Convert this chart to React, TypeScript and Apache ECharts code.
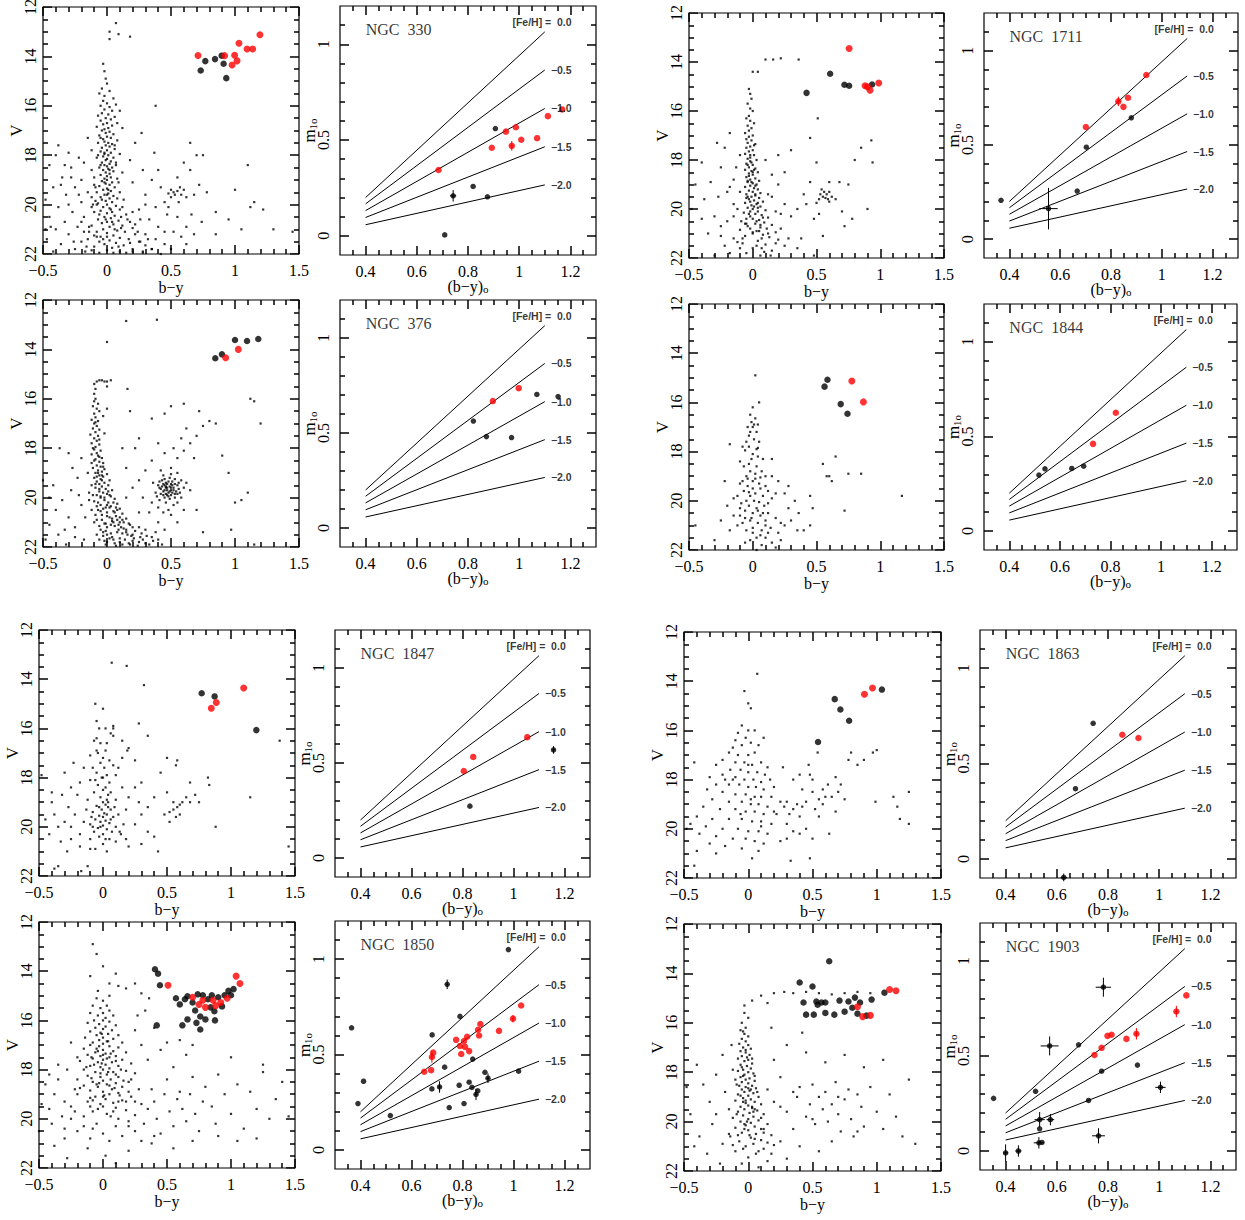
import React, { useEffect, useRef } from "react";
import * as echarts from "echarts";

// ---------- axis ticks ----------
const CMD_X_TICKS = [-0.5, 0, 0.5, 1, 1.5];
const CMD_Y_TICKS = [12, 14, 16, 18, 20, 22];
const M1_X_TICKS = [0.4, 0.6, 0.8, 1, 1.2];
const M1_Y_TICKS = [0, 0.5, 1];

// ---------- iso-metallicity calibration lines ----------
const FEH_LABELS = ["[Fe/H] =  0.0", "\u22120.5", "\u22121.0", "\u22121.5", "\u22122.0"];
const FEH_X = [0.4, 1.1];
const FEH_Y_START = [0.2, 0.167, 0.132, 0.096, 0.058];
const FEH_Y_END = [1.065, 0.866, 0.665, 0.465, 0.266];
const FEH_LABEL_Y = [1.114, 0.866, 0.665, 0.465, 0.266];

const NAMES = ["NGC 330", "NGC 376", "NGC 1711", "NGC 1844", "NGC 1847", "NGC 1850", "NGC 1863", "NGC 1903"];

// ---------- NGC 330 ----------
const F330 = [[0.02,13.0],[0.07,12.65],[0.09,13.1],[0.18,13.2],[0.02,13.3],
[-0.03,14.3],[-0.02,14.6],[-0.01,14.9],[0.0,15.1],[-0.04,15.3],[0.02,15.4],[-0.06,15.5],[-0.02,15.6],[0.05,15.7],[-0.03,15.8],[0.0,15.9],[0.07,15.95],[-0.05,16.0],[0.02,16.05],[-0.02,16.15],[0.04,16.2],[0.1,16.2],[-0.04,16.3],[0.01,16.35],[-0.07,16.4],[0.06,16.45],[-0.01,16.5],[0.03,16.55],[-0.05,16.6],[0.0,16.7],[0.08,16.7],[-0.03,16.75],[0.04,16.8],[-0.08,16.85],[0.01,16.9],[-0.02,16.95],[0.12,16.9],
[-0.04,17.0],[0.02,17.05],[-0.01,17.1],[0.05,17.15],[-0.06,17.2],[0.0,17.25],[0.03,17.3],[-0.03,17.35],[0.08,17.4],[-0.02,17.45],[0.01,17.5],[-0.07,17.5],[0.04,17.55],[-0.01,17.6],[0.02,17.65],[-0.04,17.7],[0.06,17.75],[0.0,17.8],[-0.05,17.85],[0.03,17.9],[-0.02,17.95],[0.1,17.95],[0.01,18.0],[-0.03,18.05],[0.05,18.1],[-0.08,18.1],[0.0,18.15],[-0.01,18.2],[0.03,18.25],[-0.04,18.3],[0.07,18.3],[0.02,18.35],[-0.02,18.4],[0.0,18.45],[0.04,18.5],[-0.06,18.5],[0.01,18.55],[-0.03,18.6],[0.05,18.65],[-0.01,18.7],[0.12,18.7],[0.02,18.75],[-0.05,18.8],[0.0,18.85],[0.03,18.9],[-0.02,18.95],[0.08,18.95],[-0.1,18.9],
[0.0,19.0],[-0.04,19.05],[0.04,19.1],[-0.01,19.15],[0.02,19.2],[-0.06,19.25],[0.06,19.3],[0.0,19.35],[-0.03,19.4],[0.03,19.45],[0.1,19.5],[-0.08,19.5],[0.01,19.55],[-0.02,19.6],[0.05,19.65],[-0.05,19.7],[0.02,19.75],[0.13,19.8],[-0.01,19.85],[0.04,19.9],[-0.07,19.95],[0.0,20.0],[0.07,20.05],[-0.03,20.1],[0.02,20.15],[0.1,20.2],[-0.05,20.25],[0.04,20.3],[-0.1,20.3],[0.0,20.35],[0.15,20.4],[0.06,20.45],[-0.02,20.5],[0.03,20.55],[-0.07,20.6],[0.09,20.65],[0.0,20.7],[0.18,20.7],[-0.04,20.75],[0.05,20.8],[0.12,20.85],[-0.12,20.85],[0.02,20.9],[0.2,20.95],[-0.03,21.0],[0.08,21.05],[0.14,21.1],[-0.08,21.1],[0.0,21.15],[0.22,21.2],[0.05,21.25],[-0.05,21.3],[0.1,21.35],[0.17,21.4],[-0.15,21.4],[0.02,21.45],[0.25,21.5],[0.07,21.55],[-0.02,21.6],[0.13,21.65],[0.3,21.65],[-0.1,21.7],[0.04,21.75],[0.2,21.8],[0.0,21.85],[0.1,21.9],[-0.06,21.95],[0.28,21.95],
[-0.02,19.1],[0.01,19.4],[-0.04,19.8],[0.03,20.2],[-0.01,20.6],[0.06,21.0],[-0.03,21.4],[0.09,21.7],[-0.05,18.4],[0.02,18.6],[-0.02,17.9],[0.0,19.6],[0.04,20.7],[-0.08,20.0],[0.11,20.5],[-0.06,21.5],
[-0.09,19.3],[0.08,19.75],[-0.11,20.0],[0.12,20.1],[-0.06,20.4],[0.16,20.6],[-0.14,20.9],[0.24,21.1],[-0.1,21.25],[0.18,21.55],[0.32,21.4],[-0.12,21.85],[0.15,21.95],[0.35,21.8],[0.05,21.95],[-0.2,20.7],[-0.16,21.7],[0.26,20.6],[0.3,20.0],[0.45,21.1],[0.38,21.4],[0.28,21.9],[0.5,21.8],[0.58,21.3],[0.68,21.2],[-0.44,20.9],[-0.36,19.2],[-0.28,18.9],[-0.48,21.0],[-0.12,19.7],[0.07,18.4],[-0.07,18.0],[0.06,17.6],[-0.05,17.3],[0.09,19.1],[-0.09,19.85],[0.11,20.95],[0.0,21.3],[0.2,20.3],[-0.18,21.1],
[-0.38,17.6],[-0.3,17.9],[-0.15,17.3],[-0.22,18.1],[-0.45,18.4],[-0.28,18.5],[-0.12,18.6],[-0.35,18.9],[-0.2,19.0],[-0.42,19.3],[-0.25,19.3],[-0.15,19.5],[-0.32,19.6],[-0.48,19.8],[-0.2,19.9],[-0.38,20.1],[-0.12,20.1],[-0.27,20.3],[-0.45,20.5],[-0.18,20.5],[-0.33,20.7],[-0.23,20.9],[-0.4,21.0],[-0.14,21.1],[-0.3,21.2],[-0.47,21.4],[-0.2,21.5],[-0.36,21.6],[-0.25,21.8],[-0.42,21.9],[-0.17,21.9],[-0.3,20.0],[-0.22,19.6],[-0.1,19.2],[-0.4,18.0],[-0.18,18.3],[-0.26,21.5],[-0.08,21.3],[-0.33,18.4],[-0.12,17.8],
[0.22,17.5],[0.18,18.2],[0.28,18.6],[0.35,19.0],[0.2,19.1],[0.42,19.3],[0.3,19.6],[0.48,19.55],[0.52,19.5],[0.55,19.45],[0.58,19.6],[0.5,19.7],[0.6,19.4],[0.62,19.7],[0.56,19.9],[0.45,19.9],[0.68,19.6],[0.38,20.1],[0.25,20.2],[0.47,20.4],[0.33,20.6],[0.22,20.8],[0.55,20.5],[0.4,20.9],[0.3,21.2],[0.62,20.9],[0.26,21.5],[0.45,21.6],[0.35,21.8],[0.2,21.9],[0.55,18.9],[0.6,18.3],[0.7,18.0],[0.75,18.0],[0.65,18.6],[0.4,18.6],[0.72,19.2],[0.78,19.5],[0.85,20.3],[0.66,20.4],[0.74,20.7],[0.95,20.6],[1.1,18.4],[1.12,20.1],[1.22,20.2],[1.3,21.0],[1.05,21.0],[1.15,19.9],[0.38,16.0],[0.27,17.1],[0.65,17.5],[0.37,17.9],[0.48,20.1],[0.52,21.1],[0.42,22.0],[1.45,21.1],[1.0,19.4],[0.85,21.2],[0.62,21.6],[0.53,19.6],[0.57,19.3],[0.5,19.4]];
const CMD330_RED = [[0.711,13.96],[0.919,13.97],[0.997,13.95],[1.016,14.18],[0.977,14.35],[1.031,13.47],[1.094,13.7],[1.138,13.7],[1.195,13.12]];
const CMD330_BLACK = [[0.732,14.57],[0.768,14.19],[0.844,14.11],[0.896,13.97],[0.911,14.3],[0.932,14.88]];
const M1_330_RED = [[0.685,0.344],[0.893,0.46],[0.948,0.544],[0.987,0.567],[0.971,0.47],[1.008,0.502],[1.07,0.51],[1.112,0.625],[1.168,0.66]];
const M1_330_BLACK = [[0.907,0.56],[0.82,0.258],[0.742,0.209],[0.876,0.204],[0.709,0.005]];
const ERR_330_RED = [[0.971,0.47,0.006,0.025]];
const ERR_330_BLACK = [[0.742,0.209,0.012,0.03]];

// ---------- NGC 376 ----------
const F376 = [[0.15,12.85],[0.39,12.8],[0.0,13.7],[0.16,15.6],[0.5,16.3],
[-0.1,15.4],[-0.08,15.3],[-0.06,15.25],[-0.04,15.25],[-0.02,15.3],[0.0,15.3],[0.03,15.25],[-0.09,15.6],[-0.1,15.8],[0.0,15.5],
[-0.09,16.0],[-0.1,16.1],[-0.07,16.2],[-0.11,16.3],[-0.08,16.4],[-0.06,16.5],[-0.1,16.6],[-0.09,16.75],[-0.12,16.85],[-0.07,16.9],[-0.1,17.0],[-0.08,17.1],[-0.11,17.2],[-0.06,17.25],[-0.09,17.35],[-0.13,17.45],[-0.07,17.5],[-0.1,17.6],[-0.08,17.7],[-0.12,17.8],[-0.06,17.85],[-0.09,17.95],[-0.1,18.05],[-0.05,18.1],[-0.08,18.2],[-0.12,18.25],[-0.07,18.3],[-0.04,18.4],[-0.09,18.45],[-0.02,17.4],[-0.03,16.7],[0.0,16.4],[-0.11,18.0],[-0.06,17.65],[-0.09,16.95],
[-0.1,18.5],[-0.06,18.55],[-0.03,18.6],[-0.08,18.7],[-0.05,18.75],[-0.11,18.8],[-0.02,18.85],[-0.07,18.9],[-0.04,18.95],[-0.09,19.0],[0.0,19.05],[-0.06,19.1],[-0.03,19.15],[-0.1,19.2],[-0.05,19.25],[0.02,19.3],[-0.08,19.35],[-0.02,19.4],[-0.06,19.45],[0.01,19.5],[-0.04,19.55],[-0.09,19.6],[-0.01,19.65],[0.04,19.7],[-0.06,19.75],[-0.03,19.8],[0.0,19.85],[-0.08,19.9],[0.03,19.95],[-0.05,20.0],[0.06,20.05],[-0.02,20.1],[-0.1,20.15],[0.01,20.2],[0.08,20.25],[-0.05,20.3],[0.03,20.35],[-0.01,20.4],[0.1,20.45],[-0.07,20.5],[0.05,20.55],[0.0,20.6],[0.12,20.65],[-0.04,20.7],[0.07,20.75],[0.02,20.8],[0.15,20.85],[-0.08,20.9],[0.04,20.95],[0.1,21.0],[-0.02,21.05],[0.18,21.1],[0.06,21.15],[0.0,21.2],[0.13,21.25],[-0.05,21.3],[0.22,21.35],[0.08,21.4],[0.03,21.45],[0.16,21.5],[-0.03,21.55],[0.26,21.6],[0.1,21.65],[0.05,21.7],[0.2,21.75],[0.0,21.8],[0.3,21.85],[0.12,21.9],[0.07,21.95],[0.24,21.95],[-0.1,21.0],[-0.12,20.5],[-0.14,19.8],[0.0,21.5],[0.05,21.0],[0.1,21.8],[0.15,21.3],[0.2,21.5],[0.28,21.7],[0.33,21.9],[0.18,21.9],[0.08,20.9],[0.02,20.4],[-0.04,20.9],[0.05,20.2],[-0.07,20.2],[-0.03,21.4],[0.12,20.9],[0.2,21.2],[0.35,21.6],[0.38,21.4],[0.25,21.2],
[-0.07,19.0],[-0.04,19.3],[-0.06,19.65],[-0.02,20.0],[-0.08,20.35],[0.0,20.75],[0.03,21.1],[0.09,21.3],[0.14,21.7],[-0.01,21.9],[-0.05,20.55],[0.02,19.9],[-0.09,19.45],[-0.03,18.75],[-0.06,18.35],[0.06,20.6],[0.11,21.2],[0.04,21.6],[0.21,21.65],[0.17,21.05],[-0.01,21.35],[0.08,20.5],[-0.06,21.7],[0.27,21.45],
[-0.12,19.5],[-0.05,19.95],[0.0,20.3],[-0.09,20.7],[0.04,20.85],[0.09,21.1],[-0.06,21.15],[0.15,21.4],[0.02,21.65],[0.19,21.55],[0.12,21.45],[0.25,21.8],[0.31,21.55],[0.36,21.75],[0.4,21.7],[0.43,21.9],[-0.02,21.75],[0.06,21.85],[0.17,21.85],[-0.08,21.5],[-0.11,19.9],[-0.08,19.15],[-0.12,18.6],[-0.04,19.1],[0.01,19.75],[0.07,20.4],[-0.03,20.45],[0.1,20.8],[0.13,21.0],[-0.01,21.05],
[-0.45,21.1],[-0.38,21.5],[-0.3,20.8],[-0.25,21.2],[-0.2,20.3],[-0.35,20.1],[-0.42,19.5],[-0.28,19.7],[-0.22,19.9],[-0.18,21.7],[-0.32,21.9],[-0.4,20.5],[-0.48,21.7],[-0.15,19.0],[-0.27,18.8],[-0.37,18.0],[-0.3,18.2],[-0.2,18.4],[-0.45,20.0],[-0.25,21.6],[-0.17,20.8],[-0.5,19.3],[-0.33,21.3],[-0.23,19.2],[-0.14,20.1],
[0.45,19.5],[0.47,19.6],[0.49,19.55],[0.5,19.7],[0.44,19.75],[0.48,19.8],[0.52,19.6],[0.46,19.4],[0.5,19.45],[0.42,19.65],[0.54,19.75],[0.47,19.9],[0.43,19.3],[0.51,19.35],[0.55,19.5],[0.4,19.5],[0.45,20.0],[0.53,20.0],[0.49,19.2],[0.57,19.8],[0.38,19.8],[0.46,20.2],[0.52,20.3],[0.41,20.1],[0.58,19.3],[0.44,19.1],[0.36,19.4],[0.6,19.6],[0.48,20.5],[0.55,20.2],[0.4,20.4],[0.5,19.05],[0.47,19.7],[0.43,19.55],[0.5,19.9],[0.56,19.65],[0.39,19.95],[0.45,19.25],[0.53,19.25],[0.58,20.0],[0.62,19.4],[0.35,20.2],[0.44,20.6],[0.5,20.7],[0.6,20.5],[0.42,18.9],[0.5,18.8],[0.55,19.0],[0.46,19.6],[0.49,19.75],[0.51,19.5],[0.44,19.45],[0.48,19.35],[0.53,19.85],[0.46,19.85],
[0.41,19.35],[0.47,19.45],[0.52,19.7],[0.44,19.9],[0.49,20.05],[0.55,19.85],[0.42,19.85],[0.5,19.6],[0.46,19.55],[0.53,19.45],[0.48,19.95],[0.56,19.4],[0.41,19.6],[0.45,19.7],[0.51,19.8],
[0.55,18.4],[0.6,18.1],[0.65,17.8],[0.7,17.5],[0.75,17.1],[0.8,16.9],[0.62,17.2],[0.58,17.6],[0.68,18.4],[0.52,18.0],[0.45,18.2],[0.4,17.8],[0.35,18.5],[0.3,18.9],[0.25,19.3],[0.2,19.6],[0.15,20.0],[0.28,20.0],[0.33,20.6],[0.3,21.3],[0.4,21.0],[0.45,21.3],[0.55,21.0],[0.25,20.6],[0.65,19.7],[0.7,20.5],[0.75,21.4],[0.85,17.0],[0.72,16.5],[0.6,16.2],[0.45,16.6],[0.35,16.8],[0.18,16.5],[0.25,17.6],[0.12,18.0],[0.15,18.8],[0.22,18.0],[0.9,18.3],[0.95,19.0],[1.0,20.2],[1.05,20.1],[1.1,19.8],[1.15,16.1],[1.2,17.0],[1.12,16.0],[0.97,21.3],[1.15,21.9]];
const CMD376_RED = [[0.927,14.34],[1.026,14.0]];
const CMD376_BLACK = [[0.846,14.36],[0.898,14.2],[1.0,13.62],[1.094,13.66],[1.182,13.58]];
const M1_376_RED = [[0.897,0.668],[0.998,0.736]];
const M1_376_BLACK = [[0.821,0.563],[0.872,0.481],[0.97,0.476],[1.069,0.703],[1.152,0.692]];

// ---------- NGC 1711 ----------
const F1711 = [[0.1,13.9],[0.16,13.9],[0.22,13.85],[0.36,13.9],[0.0,14.4],[0.04,14.4],
[-0.03,15.1],[-0.02,15.3],[-0.01,15.5],[-0.04,15.7],[-0.02,15.9],[0.0,16.0],[-0.03,16.2],[-0.05,16.3],[-0.02,16.4],[0.01,16.5],[-0.04,16.6],[-0.01,16.7],[-0.03,16.8],[-0.06,16.9],[0.0,17.0],[-0.03,17.05],[-0.05,17.15],[-0.01,17.2],[-0.04,17.3],[0.02,17.35],[-0.02,17.45],[-0.05,17.5],[0.0,17.6],[-0.03,17.65],[-0.06,17.75],[0.01,17.8],[-0.02,17.9],[-0.04,17.95],[0.03,18.0],[-0.01,18.1],[-0.05,18.15],[0.0,18.2],[-0.03,18.3],[0.02,18.35],[-0.06,18.4],[-0.01,18.45],[0.04,18.5],[-0.03,18.55],[0.0,18.6],[-0.05,18.7],[0.02,18.75],[-0.02,18.8],[0.05,18.85],[-0.04,18.9],[0.0,18.95],[0.03,19.0],[-0.02,19.05],[-0.06,19.1],[0.01,19.15],[0.04,19.2],[-0.03,19.25],[0.0,19.3],[0.06,19.35],[-0.05,19.4],[0.02,19.45],[-0.01,19.5],[0.05,19.55],[-0.03,19.6],[0.01,19.65],[0.08,19.7],[-0.06,19.75],[0.03,19.8],[-0.01,19.85],[0.06,19.9],[-0.04,19.95],[0.0,20.0],[0.1,20.05],[0.04,20.1],[-0.07,20.15],[0.02,20.2],[0.07,20.25],[-0.02,20.3],[0.12,20.35],[0.0,20.4],[0.05,20.45],[-0.09,20.5],[0.09,20.55],[0.02,20.6],[0.15,20.65],[-0.04,20.7],[0.06,20.75],[0.11,20.8],[-0.1,20.85],[0.03,20.9],[0.18,20.95],[0.0,21.0],[0.08,21.05],[-0.06,21.1],[0.13,21.15],[0.2,21.25],[0.04,21.3],[-0.12,21.35],[0.1,21.45],[0.0,21.6],[0.15,21.7],[-0.05,21.8],[0.06,21.9],[-0.02,19.7],[0.0,18.5],[-0.02,17.8],[-0.04,18.2],[0.01,19.9],[-0.03,20.2],[0.05,20.9],
[-0.01,18.9],[0.02,19.4],[-0.04,19.5],[0.03,20.5],[-0.02,20.8],[0.07,21.2],[-0.05,20.4],[0.01,17.4],[-0.03,18.65],[0.04,19.75],
[-0.02,18.05],[0.01,18.4],[-0.04,18.85],[0.02,19.05],[-0.05,19.55],[0.04,19.95],[-0.02,20.1],[0.08,20.35],[-0.06,20.6],[0.06,20.65],[0.0,20.95],[-0.08,21.2],[0.12,21.0],[0.03,21.5],[0.09,21.75],[-0.1,21.6],[0.18,21.4],[-0.15,20.3],[-0.25,21.1],[0.22,20.2],[0.15,19.5],[-0.18,19.1],[0.57,19.55],[0.53,19.4],[0.6,19.3],[0.59,19.6],
[-0.4,18.1],[-0.45,19.0],[-0.48,20.0],[-0.38,19.6],[-0.33,18.9],[-0.3,20.3],[-0.25,18.3],[-0.22,17.5],[-0.2,19.3],[-0.18,16.9],[-0.28,17.3],[-0.35,21.0],[-0.25,20.7],[-0.15,18.8],[-0.12,20.0],[-0.15,21.2],[-0.22,21.5],[-0.3,21.9],[-0.1,17.8],[-0.15,19.8],[-0.4,20.4],[-0.2,20.5],[-0.08,21.4],[-0.13,18.3],[-0.27,19.5],[-0.18,21.8],[-0.05,20.6],[-0.1,19.3],
[0.1,18.0],[0.15,18.6],[0.2,19.0],[0.12,19.4],[0.25,19.8],[0.3,20.3],[0.18,20.1],[0.22,20.8],[0.28,21.2],[0.35,20.0],[0.4,19.4],[0.45,18.9],[0.48,20.4],[0.5,18.1],[0.6,18.9],[0.55,19.5],[0.52,19.6],[0.58,19.4],[0.62,19.5],[0.56,19.3],[0.54,19.2],[0.6,19.7],[0.5,19.75],[0.65,19.6],[0.7,20.1],[0.68,18.9],[0.72,20.7],[0.75,19.0],[0.78,20.4],[0.55,21.1],[0.35,21.6],[0.48,21.9],[0.52,20.2],[0.38,21.2],[0.42,19.8],[0.25,18.5],[0.3,17.6],[0.2,17.8],[0.45,17.1],[0.51,16.3],[0.85,17.5],[0.93,17.2],[0.8,18.0],[0.9,20.0],[0.94,18.1],[0.07,21.6],[0.14,21.9],[0.25,21.5]];
const CMD1711_RED = [[0.756,13.45],[0.881,14.97],[0.9,15.01],[0.92,15.15],[0.988,14.86]];
const CMD1711_BLACK = [[0.607,14.48],[0.719,14.93],[0.756,14.97],[0.936,14.92],[0.422,15.26]];
const M1_1711_RED = [[0.701,0.595],[0.829,0.731],[0.849,0.702],[0.867,0.75],[0.939,0.871]];
const M1_1711_BLACK = [[0.703,0.488],[0.88,0.644],[0.667,0.255],[0.554,0.162],[0.367,0.206]];
const ERR_1711_RED = [[0.829,0.731,0.008,0.025]];
const ERR_1711_BLACK = [[0.554,0.162,0.036,0.11]];

// ---------- NGC 1844 ----------
const F1844 = [[0.02,14.9],[0.0,16.2],[-0.02,16.5],[-0.01,16.8],[0.02,16.65],[0.04,16.9],[-0.04,17.0],[0.03,17.2],[-0.03,17.35],[0.01,17.5],[-0.05,17.6],[0.05,17.6],[-0.03,17.8],[0.04,17.85],[-0.06,17.95],[0.0,18.1],[-0.1,18.4],[-0.03,18.5],[0.03,18.6],[0.07,18.8],[-0.02,18.8],[-0.05,19.0],[-0.08,19.2],[0.02,19.1],[0.1,19.0],[0.15,19.0],[-0.1,19.3],[-0.04,19.4],[0.0,19.5],[0.06,19.5],[-0.07,19.6],[0.02,19.7],[-0.02,19.8],[0.08,19.8],[0.12,19.6],[-0.12,19.8],[-0.05,20.0],[0.01,20.0],[0.05,20.05],[-0.09,20.1],[0.15,19.9],[0.18,19.7],[-0.03,20.2],[0.03,20.3],[0.09,20.2],[-0.06,20.4],[0.0,20.5],[0.06,20.6],[-0.1,20.6],[0.12,20.5],[-0.02,20.8],[0.04,20.9],[0.1,20.8],[-0.08,20.9],[0.18,20.7],[0.22,20.9],[0.0,21.1],[0.07,21.2],[-0.05,21.2],[0.14,21.1],[0.2,21.3],[-0.12,21.0],[0.03,21.5],[0.1,21.5],[-0.02,21.6],[0.15,21.7],[0.07,21.8],[0.22,21.6],[0.03,22.0],[-0.15,19.9],[-0.2,20.2],[-0.22,19.2],[-0.25,20.8],[-0.18,21.2],[-0.3,21.6],[-0.45,21.0],[-0.18,17.7],[0.25,19.7],[0.28,20.3],[0.3,20.8],[0.33,20.0],[0.28,19.4],[0.25,21.0],[0.2,19.2],[0.15,18.3],[0.08,18.3],[-0.07,18.6],[0.05,19.3],[-0.04,19.1],[0.08,20.5],[-0.15,20.6],[0.12,20.1],[0.0,19.2],[0.04,18.2],[-0.08,17.8],[0.06,21.4],[-0.06,21.7],[0.18,21.9],[0.12,21.3],[0.35,21.2],[-0.01,20.7],[0.1,19.4],[-0.1,20.3],[0.45,19.8],[0.47,20.3],[0.45,21.0],[0.55,18.5],[0.6,19.0],[0.58,19.0],[0.62,19.2],[0.65,18.2],[0.75,18.9],[0.85,18.9],[0.72,20.4],[1.17,19.8],[0.36,20.5],[0.4,21.2],[0.05,16.0],[0.0,17.0],[0.02,18.9],[0.01,16.9],[-0.02,17.2],[0.03,17.9],[-0.01,18.3],[0.06,19.05],[-0.03,19.65],[0.04,20.4],[-0.06,20.7],[0.1,21.0],[0.0,21.3]];
const CMD1844_RED = [[0.777,15.13],[0.868,15.98]];
const CMD1844_BLACK = [[0.563,15.36],[0.586,15.08],[0.69,16.07],[0.743,16.46]];
const M1_1844_RED = [[0.731,0.461],[0.821,0.625]];
const M1_1844_BLACK = [[0.517,0.296],[0.541,0.329],[0.647,0.331],[0.694,0.343]];

// ---------- NGC 1847 ----------
const F1847 = [[0.068,13.33],[0.185,13.46],[0.32,14.24],
[-0.06,15.0],[-0.05,15.7],[-0.03,16.0],[0.0,15.2],[0.06,16.2],[0.08,16.3],[-0.07,16.5],[-0.02,16.6],[-0.05,16.9],[0.02,16.9],[-0.1,17.1],[0.0,17.2],[-0.02,17.4],[0.05,17.3],[-0.08,17.6],[0.01,17.6],[0.08,17.5],[-0.05,17.8],[0.03,17.9],[-0.01,18.0],[-0.1,18.1],[0.05,18.2],[-0.04,18.3],[0.02,18.4],[0.0,18.5],[-0.07,18.6],[0.06,18.6],[-0.02,18.8],[0.03,18.9],[-0.12,18.9],[0.0,19.0],[0.02,19.1],[-0.05,19.15],[0.04,19.2],[-0.01,19.3],[0.06,19.3],[-0.08,19.4],[0.01,19.45],[0.03,19.5],[-0.03,19.55],[0.0,19.6],[0.08,19.6],[-0.06,19.7],[0.02,19.75],[-0.02,19.8],[0.05,19.85],[-0.1,19.9],[0.0,19.95],[0.1,20.0],[-0.04,20.05],[0.03,20.1],[0.07,20.2],[-0.07,20.2],[0.0,20.3],[0.14,20.3],[-0.03,20.4],[0.05,20.5],[0.1,20.6],[-0.1,20.5],[0.0,20.7],[0.18,20.5],[0.2,20.8],[0.03,21.0],[-0.06,20.9],[0.13,20.2],[0.16,19.9],[0.12,19.5],[0.18,19.3],[0.1,18.9],[0.15,18.4],[0.2,18.8],[-0.13,19.3],[-0.15,19.8],[-0.18,20.3],[-0.2,18.7],[-0.22,19.5],[-0.25,20.0],[-0.27,19.2],[-0.3,19.8],[-0.32,18.7],[-0.35,20.0],[-0.38,19.5],[-0.4,19.0],[-0.42,20.3],[-0.45,19.7],[-0.33,20.6],[-0.25,20.5],[-0.18,20.8],[-0.28,21.0],[-0.35,21.6],[-0.38,21.7],[-0.17,21.8],[-0.12,21.6],[-0.1,20.9],[-0.3,17.8],[-0.23,17.4],[-0.15,17.6],[-0.18,18.2],[-0.25,18.4],[-0.48,17.9],[-0.4,18.6],[0.08,16.0],[0.12,17.6],[0.15,17.2],[0.2,16.8],[0.25,17.3],[0.1,17.9],[0.25,18.4],[0.3,18.2],[0.28,19.0],[0.3,19.5],[0.25,19.9],[0.35,20.2],[0.3,20.7],[0.4,20.4],[0.43,21.0],[0.45,17.8],[0.5,17.2],[0.5,18.6],[0.55,19.0],[0.58,19.2],[0.6,19.1],[0.55,19.3],[0.62,19.0],[0.6,19.5],[0.57,19.6],[0.52,19.4],[0.65,18.8],[0.68,19.0],[0.72,18.7],[0.52,19.8],[0.48,19.5],[0.4,18.8],[0.35,19.2],[0.58,17.3],[0.57,17.5],[0.75,19.0],[0.82,18.0],[0.83,18.3],[0.88,20.0],[1.15,18.8],[1.38,16.5],[1.45,20.8],[0.68,18.2],[0.35,16.3],[0.28,15.8],[0.19,16.9],[0.15,16.5],[0.08,15.9],[-0.05,16.4],[0.02,16.0],[0.0,18.0],[0.04,19.0],[-0.02,20.0],[-0.06,18.1],[0.04,18.7],[-0.03,19.2],[0.06,19.7],[-0.08,20.0],[0.02,20.5],[-0.04,17.0],[0.03,16.6],[-0.09,19.6],[0.09,19.2]];
const CMD1847_RED = [[1.099,14.36],[0.885,14.95],[0.846,15.18]];
const CMD1847_BLACK = [[0.771,14.57],[0.872,14.7],[1.198,16.07]];
const M1_1847_RED = [[0.805,0.458],[0.842,0.532],[1.054,0.636]];
const M1_1847_BLACK = [[0.829,0.273],[1.157,0.569]];
const ERR_1847_BLACK = [[1.157,0.569,0.006,0.02]];

// ---------- NGC 1850 ----------
const F1850 = [[-0.08,12.9],[-0.05,13.3],[0.0,13.8],[-0.1,14.2],[0.05,14.5],[0.1,14.1],[0.12,14.6],[0.18,14.7],[0.25,14.5],[0.05,15.0],[-0.04,14.8],
[-0.05,15.1],[0.0,15.2],[-0.08,15.4],[0.03,15.4],[-0.02,15.5],[0.05,15.6],[-0.1,15.7],[0.0,15.7],[-0.04,15.8],[0.08,15.8],[0.02,15.9],[-0.07,16.0],[0.0,16.0],[0.05,16.05],[-0.12,16.1],[-0.03,16.15],[0.1,16.2],[0.02,16.25],[-0.06,16.3],[0.0,16.35],[0.07,16.4],[-0.1,16.45],[-0.02,16.5],[0.04,16.55],[0.12,16.6],[-0.05,16.6],[0.0,16.7],[-0.14,16.7],[0.08,16.75],[-0.03,16.8],[0.03,16.85],[-0.08,16.9],[0.15,16.9],[0.0,16.95],
[-0.1,17.0],[-0.03,17.05],[0.05,17.05],[0.12,17.1],[-0.15,17.15],[0.0,17.2],[0.08,17.25],[-0.06,17.3],[0.18,17.3],[0.02,17.35],[-0.12,17.4],[-0.02,17.45],[0.1,17.45],[0.05,17.5],[-0.08,17.55],[0.0,17.6],[0.15,17.6],[-0.18,17.65],[-0.04,17.7],[0.07,17.7],[0.22,17.75],[0.02,17.8],[-0.1,17.85],[0.12,17.85],[-0.02,17.9],[0.05,17.95],[-0.15,18.0],[0.0,18.0],[0.18,18.05],[0.08,18.1],[-0.06,18.1],[0.25,18.15],[0.03,18.2],[-0.12,18.25],[0.12,18.3],[-0.02,18.3],[0.06,18.4],[-0.2,18.4],[0.0,18.45],[0.2,18.5],[-0.08,18.5],[0.1,18.55],[0.03,18.6],[-0.15,18.65],[0.15,18.7],[-0.04,18.7],[0.07,18.8],[0.28,18.8],[-0.1,18.85],[0.0,18.9],[0.12,18.95],[-0.2,19.0],[0.05,19.0],[0.22,19.1],[-0.06,19.1],[0.02,19.2],[0.15,19.25],[-0.12,19.3],[0.08,19.35],[-0.02,19.4],[0.3,19.4],[0.0,19.5],[-0.25,19.5],[0.1,19.55],[0.18,19.65],[-0.08,19.7],[0.03,19.8],[0.25,19.85],[-0.15,19.9],
[-0.01,16.55],[0.04,16.85],[-0.05,17.15],[0.03,17.55],[-0.07,17.8],[0.1,18.2],[-0.03,18.55],[0.05,18.65],[-0.1,19.15],[0.13,19.05],[0.0,17.4],[-0.02,18.15],
[-0.04,17.25],[0.06,17.35],[-0.09,17.5],[0.1,17.65],[-0.01,17.75],[-0.13,17.9],[0.14,18.0],[0.04,18.1],[-0.09,18.35],[0.16,18.45],[-0.05,18.6],[0.09,18.75],[-0.18,18.75],[0.2,18.9],[0.01,19.05],[-0.08,19.25],[0.12,19.3],[0.25,19.3],[-0.04,19.6],[0.06,19.9],[-0.22,19.7],[0.2,20.3],[-0.3,20.4],[0.4,20.7],[0.7,20.9],[0.9,20.7],[1.05,20.9],[1.2,20.8],[-0.42,18.2],[1.45,19.9],
[-0.45,18.6],[-0.38,19.0],[-0.42,19.6],[-0.35,18.4],[-0.3,19.3],[-0.28,18.0],[-0.32,19.9],[-0.4,20.2],[-0.25,20.0],[-0.22,18.8],[-0.2,20.5],[-0.3,20.8],[-0.38,21.1],[-0.15,20.3],[-0.1,20.8],[-0.05,20.2],[0.0,20.6],[0.05,20.9],[0.1,20.3],[0.15,20.7],[0.2,20.1],[0.25,20.5],[0.3,20.9],[0.32,20.2],[0.35,19.6],[0.38,18.8],[0.4,19.3],[0.42,20.0],[0.45,20.6],[0.48,19.0],[0.5,18.4],[0.52,19.7],[0.55,20.3],[0.58,19.2],[0.6,18.9],[0.62,19.6],[0.65,20.1],[0.68,19.0],[0.7,18.3],[0.72,19.8],[0.75,20.5],[0.78,19.3],[0.8,18.7],[0.85,19.5],[0.88,20.2],[0.9,18.2],[0.95,19.0],[1.0,19.8],[1.05,18.6],[1.1,20.4],[1.15,18.9],[1.2,19.6],[1.25,18.1],[1.3,20.0],[1.35,19.2],[1.4,18.5],[0.35,17.6],[0.45,17.2],[0.55,17.9],[0.65,17.4],[0.3,17.0],[0.25,16.4],[0.4,16.3],[-0.25,16.9],[-0.2,17.5],[-0.35,17.8],[-0.48,19.4],[-0.5,20.5],[-0.12,21.2],[0.02,21.5],[0.2,21.3],[0.38,21.0],[0.55,21.2],[0.1,21.8],[-0.28,21.6],[0.3,14.9],[0.33,15.6],[0.27,15.8],[0.36,15.1],[0.5,16.9],[0.6,16.8],[0.7,17.0],[1.0,17.5],[1.25,17.8],[0.12,20.0],[-0.08,20.4],[0.08,19.7],[0.18,19.3],[-0.1,19.5],[0.0,19.1],[0.22,18.4]];
const CMD1850_RED = [[0.508,14.57],[1.04,14.2],[1.07,14.5],[0.7,15.06],[0.78,15.18],[0.86,15.18],[0.92,15.27],[0.8,15.47],[0.88,15.4],[0.75,15.35],[0.97,15.1]];
const CMD1850_BLACK = [[0.406,13.92],[0.43,14.1],[0.445,14.57],[0.42,16.2],[0.57,15.1],[0.6,15.35],[0.64,15.14],[0.66,15.02],[0.7,15.27],[0.72,15.6],[0.74,14.94],[0.76,15.84],[0.78,14.98],[0.8,15.96],[0.82,15.14],[0.84,15.47],[0.85,14.98],[0.87,15.63],[0.9,15.06],[0.93,15.43],[0.95,14.98],[0.98,14.8],[1.02,14.73],[0.62,16.2],[0.76,16.37],[0.73,16.1],[0.66,15.96],[1.0,14.98],[0.875,16.0]];
const M1_1850_RED = [[0.65,0.41],[0.677,0.418],[0.68,0.487],[0.685,0.51],[0.775,0.577],[0.79,0.545],[0.806,0.571],[0.81,0.54],[0.795,0.503],[0.818,0.593],[0.826,0.518],[0.861,0.63],[0.87,0.66],[0.865,0.6],[0.943,0.624],[0.998,0.688],[1.03,0.757]];
const M1_1850_BLACK = [[0.365,0.64],[0.39,0.243],[0.412,0.36],[0.517,0.18],[0.681,0.603],[0.68,0.32],[0.71,0.33],[0.74,0.868],[0.73,0.434],[0.748,0.222],[0.79,0.7],[0.787,0.339],[0.806,0.243],[0.826,0.355],[0.84,0.476],[0.837,0.328],[0.853,0.291],[0.9,0.376],[0.888,0.407],[0.98,1.05],[1.02,0.413],[0.86,0.31]];
const ERR_1850_RED = [[0.68,0.487,0.005,0.03],[0.998,0.688,0.005,0.02]];
const ERR_1850_BLACK = [[0.74,0.868,0.005,0.025],[0.71,0.33,0.005,0.03],[0.853,0.291,0.005,0.03],[0.9,0.376,0.005,0.025]];

// ---------- NGC 1863 ----------
const F1863 = [[0.07,13.7],[-0.03,14.4],[0.0,14.9],[0.02,15.1],
[-0.05,15.8],[0.0,16.0],[-0.08,16.1],[0.05,16.0],[-0.02,16.3],[-0.1,16.4],[0.02,16.5],[-0.12,16.7],[-0.05,16.6],[0.08,16.6],[0.12,16.3],[-0.15,16.9],[-0.08,17.0],[0.0,17.0],[0.05,16.9],[-0.2,17.2],[-0.1,17.3],[-0.03,17.3],[0.03,17.4],[0.1,17.3],[0.15,17.5],[-0.25,17.4],[-0.14,17.6],[-0.06,17.6],[0.0,17.7],[0.07,17.7],[0.13,17.8],[-0.3,17.9],[-0.2,17.8],[-0.1,17.9],[-0.03,18.0],[0.04,18.0],[0.1,18.1],[0.17,18.0],[-0.25,18.2],[-0.15,18.2],[-0.07,18.2],[0.0,18.3],[0.06,18.3],[0.12,18.4],[0.2,18.3],[-0.32,18.4],[-0.2,18.5],[-0.1,18.6],[-0.02,18.6],[0.05,18.7],[0.1,18.7],[0.18,18.7],[-0.28,18.8],[-0.15,18.9],[-0.05,18.9],[0.02,19.0],[0.08,19.0],[0.15,19.1],[-0.35,19.1],[-0.22,19.2],[-0.1,19.2],[-0.02,19.3],[0.05,19.3],[0.12,19.4],[0.2,19.3],[-0.4,19.5],[-0.28,19.6],[-0.15,19.6],[-0.05,19.6],[0.03,19.7],[0.1,19.7],[0.18,19.8],[-0.45,19.8],[-0.33,19.9],[-0.2,20.0],[-0.08,20.0],[0.0,20.1],[0.08,20.1],[0.15,20.2],[-0.38,20.2],[-0.25,20.3],[-0.12,20.4],[-0.02,20.4],[0.05,20.5],[0.12,20.6],[-0.3,20.6],[-0.18,20.7],[-0.05,20.8],[0.08,20.9],[-0.4,20.9],[-0.25,21.0],[0.03,21.2],[-0.42,21.5],[0.22,19.4],[0.25,18.9],[0.27,17.5],[-0.42,17.3],[-0.48,20.0],[0.28,19.1],[-0.18,18.0],[0.02,18.8],[-0.06,19.4],[0.0,17.4],[0.1,19.9],[-0.12,18.0],
[0.3,18.9],[0.32,19.4],[0.3,19.8],[0.35,19.2],[0.35,18.0],[0.4,17.8],[0.38,19.0],[0.4,19.5],[0.42,19.1],[0.45,18.9],[0.45,20.0],[0.48,17.8],[0.5,18.0],[0.5,18.5],[0.52,19.2],[0.55,18.8],[0.55,19.5],[0.58,18.4],[0.6,18.7],[0.62,18.2],[0.65,18.7],[0.68,17.9],[0.68,19.3],[0.7,18.5],[0.72,18.2],[0.75,18.8],[0.78,17.2],[0.8,16.9],[0.85,17.4],[0.9,17.2],[0.97,16.9],[0.99,18.9],[1.0,16.8],[1.13,18.7],[1.16,19.1],[1.18,19.6],[1.25,18.5],[1.25,19.8],[0.25,20.5],[0.3,20.4],[0.35,20.1],[0.48,21.2],[0.63,20.2],[0.5,20.4],[0.4,20.2],[0.33,21.3],[0.58,19.0],[0.42,18.4],[0.54,16.9],[0.47,17.4]];
const CMD1863_RED = [[0.904,14.53],[0.967,14.28]];
const CMD1863_BLACK = [[0.673,14.73],[0.717,15.15],[0.785,15.61],[0.543,16.47],[1.04,14.34]];
const M1_1863_RED = [[0.856,0.651],[0.919,0.634]];
const M1_1863_BLACK = [[0.742,0.711],[0.673,0.368],[0.627,-0.097]];
const ERR_1863_BLACK = [[0.627,-0.097,0.012,0.02]];

// ---------- NGC 1903 ----------
const F1903 = [[0.1,14.9],[0.2,14.8],[0.28,14.75],[0.35,14.8],[0.45,14.75],[0.55,14.8],[0.65,14.85],[0.75,14.8],[0.85,14.75],[0.95,14.8],[0.15,15.2],[0.03,15.1],[-0.03,15.3],
[-0.03,15.6],[0.0,15.8],[-0.05,16.0],[-0.02,16.2],[-0.06,16.3],[-0.03,16.45],[0.0,16.55],[-0.05,16.65],[-0.02,16.75],[-0.07,16.85],[0.0,16.9],[-0.04,17.0],[0.02,17.05],[-0.06,17.15],[-0.02,17.2],[0.01,17.3],[-0.05,17.35],[-0.08,17.45],[0.0,17.5],[-0.03,17.55],[0.03,17.65],[-0.06,17.7],[-0.01,17.75],[0.02,17.85],[-0.04,17.9],[-0.08,17.95],[0.0,18.0],[0.04,18.05],[-0.03,18.1],[-0.06,18.2],[0.01,18.25],[-0.02,18.3],[0.05,18.35],[-0.05,18.4],[0.0,18.45],[-0.09,18.5],[0.03,18.55],[-0.02,18.6],[0.06,18.65],[-0.05,18.7],[0.01,18.75],[-0.03,18.8],[0.04,18.85],[-0.08,18.9],[0.0,18.95],[0.08,19.0],[-0.04,19.05],[0.02,19.1],[-0.1,19.15],[0.05,19.2],[-0.02,19.25],[0.1,19.3],[0.0,19.35],[-0.06,19.4],[0.03,19.45],[-0.03,19.5],[0.07,19.55],[-0.08,19.6],[0.01,19.65],[0.12,19.7],[-0.04,19.75],[0.04,19.8],[-0.12,19.85],[0.0,19.9],[0.08,19.95],[-0.06,20.0],[0.02,20.05],[0.15,20.1],[-0.02,20.15],[0.05,20.2],[-0.1,20.25],[0.1,20.3],[0.0,20.35],[-0.05,20.45],[0.06,20.5],[0.18,20.55],[-0.14,20.6],[0.02,20.65],[0.1,20.75],[-0.07,20.8],[0.04,20.9],[0.2,20.95],[-0.02,21.0],[0.12,21.1],[-0.1,21.2],[0.06,21.3],[0.0,21.45],[0.15,21.6],[-0.05,21.7],[0.08,21.85],
[-0.01,17.4],[-0.04,18.15],[0.02,18.7],[-0.02,19.15],[0.04,19.6],[-0.03,20.1],[0.01,20.55],[-0.06,18.95],[0.03,19.4],[-0.01,20.0],
[-0.02,17.1],[0.03,17.45],[-0.05,17.8],[0.05,18.15],[-0.07,18.55],[0.07,18.8],[-0.04,19.2],[0.05,19.5],[-0.09,19.7],[0.1,19.85],[-0.03,20.3],[0.12,20.45],[-0.08,20.55],[0.05,20.7],[0.15,20.85],[-0.04,21.1],[0.08,21.2],[-0.12,20.95],[0.0,18.65],[-0.04,16.35],[0.25,19.4],[0.5,19.9],[0.7,19.0],[0.85,20.4],[0.35,18.8],
[-0.4,17.7],[-0.35,18.5],[-0.3,19.2],[-0.45,19.7],[-0.25,18.1],[-0.2,17.3],[-0.18,18.8],[-0.15,19.5],[-0.28,20.1],[-0.38,20.6],[-0.2,20.9],[-0.32,21.3],[-0.12,17.9],[-0.15,20.5],[-0.22,21.7],[-0.42,21.0],[-0.1,18.3],[-0.13,16.9],[-0.48,18.6],[-0.25,19.7],
[0.15,18.7],[0.2,19.2],[0.25,18.2],[0.3,19.6],[0.35,20.3],[0.38,19.0],[0.4,18.6],[0.45,19.8],[0.48,19.3],[0.5,18.5],[0.52,20.1],[0.55,19.0],[0.58,19.5],[0.6,18.8],[0.62,20.0],[0.65,19.3],[0.68,18.4],[0.7,19.7],[0.72,20.4],[0.75,19.1],[0.78,18.7],[0.8,19.9],[0.82,20.6],[0.85,18.9],[0.88,19.4],[0.9,20.2],[0.95,18.6],[1.0,19.6],[1.05,20.3],[1.1,18.9],[1.15,19.8],[1.2,20.6],[0.25,20.8],[0.4,21.0],[0.55,21.2],[0.3,21.5],[0.2,17.5],[0.3,16.9],[0.45,17.2],[0.6,17.6],[0.75,17.3],[0.9,17.8],[1.05,17.5],[0.42,16.4],[0.18,16.2],[1.25,18.3],[1.3,20.9],[0.65,20.8],[0.12,20.3],[0.18,21.3]];
const CMD1903_RED = [[0.85,15.35],[0.89,15.75],[0.95,15.7],[1.1,14.65],[1.15,14.7]];
const CMD1903_BLACK = [[0.4,14.37],[0.5,14.53],[0.53,15.14],[0.51,15.67],[0.54,15.27],[0.57,15.18],[0.6,15.6],[0.6,15.18],[0.63,13.51],[0.67,15.67],[0.71,15.1],[0.75,15.55],[0.78,15.14],[0.81,15.39],[0.83,14.98],[0.87,15.18],[0.92,15.71],[0.96,15.06],[1.06,14.78],[0.45,15.67],[0.85,15.63],[0.43,15.18]];
const M1_1903_RED = [[0.747,0.505],[0.775,0.543],[0.798,0.606],[0.814,0.612],[0.872,0.59],[0.911,0.617],[1.067,0.734],[1.106,0.819]];
const M1_1903_BLACK = [[0.353,0.277],[0.4,-0.01],[0.45,0.0],[0.517,0.314],[0.533,0.165],[0.533,0.117],[0.53,0.043],[0.542,0.045],[0.575,0.165],[0.572,0.553],[0.685,0.559],[0.724,0.266],[0.763,0.08],[0.782,0.862],[0.775,0.42],[0.915,0.452],[1.005,0.335]];
const ERR_1903_RED = [[0.911,0.617,0.005,0.03],[1.067,0.734,0.005,0.03]];
const ERR_1903_BLACK = [[0.4,-0.01,0.01,0.045],[0.45,0.0,0.012,0.03],[0.533,0.165,0.02,0.04],[0.53,0.043,0.02,0.03],[0.575,0.165,0.015,0.03],[0.572,0.553,0.035,0.05],[0.763,0.08,0.025,0.04],[0.782,0.862,0.03,0.05],[1.005,0.335,0.02,0.03]];

const CLUSTERS = [
  { field: F330, cr: CMD330_RED, cb: CMD330_BLACK, mr: M1_330_RED, mb: M1_330_BLACK, er: ERR_330_RED, eb: ERR_330_BLACK },
  { field: F376, cr: CMD376_RED, cb: CMD376_BLACK, mr: M1_376_RED, mb: M1_376_BLACK, er: [], eb: [] },
  { field: F1711, cr: CMD1711_RED, cb: CMD1711_BLACK, mr: M1_1711_RED, mb: M1_1711_BLACK, er: ERR_1711_RED, eb: ERR_1711_BLACK },
  { field: F1844, cr: CMD1844_RED, cb: CMD1844_BLACK, mr: M1_1844_RED, mb: M1_1844_BLACK, er: [], eb: [] },
  { field: F1847, cr: CMD1847_RED, cb: CMD1847_BLACK, mr: M1_1847_RED, mb: M1_1847_BLACK, er: [], eb: ERR_1847_BLACK },
  { field: F1850, cr: CMD1850_RED, cb: CMD1850_BLACK, mr: M1_1850_RED, mb: M1_1850_BLACK, er: ERR_1850_RED, eb: ERR_1850_BLACK },
  { field: F1863, cr: CMD1863_RED, cb: CMD1863_BLACK, mr: M1_1863_RED, mb: M1_1863_BLACK, er: [], eb: ERR_1863_BLACK },
  { field: F1903, cr: CMD1903_RED, cb: CMD1903_BLACK, mr: M1_1903_RED, mb: M1_1903_BLACK, er: ERR_1903_RED, eb: ERR_1903_BLACK },
];

// panel boxes in pixels: [left, top, width, height]
const LAYOUT = [
  { cmd: [43, 7, 256, 247], m1: [340, 6, 256, 249] },
  { cmd: [43, 300, 256, 247], m1: [340, 300, 256, 247] },
  { cmd: [689, 13, 255, 245], m1: [984, 13, 254, 245] },
  { cmd: [689, 304, 255, 246], m1: [984, 304, 253, 246] },
  { cmd: [39, 630, 256, 246], m1: [335, 630, 255, 247] },
  { cmd: [39, 922, 256, 246], m1: [335, 921, 255, 248] },
  { cmd: [684, 632, 257, 246], m1: [980, 630, 256, 248] },
  { cmd: [684, 924, 257, 247], m1: [980, 923, 256, 247] },
];

const FONT = "'Liberation Serif', 'Times New Roman', serif";
const LABEL_FONT = "'Liberation Sans', Arial, sans-serif";
const RED = "#ff0000";

function minorTicks(min: number, max: number, step: number, majors: number[]) {
  const out: number[] = [];
  const n = Math.round((max - min) / step);
  for (let i = 1; i < n; i++) {
    const v = Math.round((min + i * step) * 10000) / 10000;
    if (!majors.some((m) => Math.abs(m - v) < 1e-6)) out.push(v);
  }
  return out;
}
const fmt = (v: number) => String(v).replace("-", "\u2212");

const cmdX = { min: -0.5, max: 1.5, major: CMD_X_TICKS, minor: minorTicks(-0.5, 1.5, 0.1, CMD_X_TICKS), margin: 8, name: "b\u2212y", nameGap: 25 };
const cmdY = { min: 12, max: 22, inverse: true, major: CMD_Y_TICKS, minor: minorTicks(12, 22, 0.5, CMD_Y_TICKS), margin: 5, name: "V", nameGap: 18 };
const m1X = { min: 0.3, max: 1.3, major: M1_X_TICKS, minor: minorTicks(0.3, 1.3, 0.05, M1_X_TICKS), margin: 8, name: "{a|(b\u2212y)}{s|o}", nameGap: 23 };
const m1Y = { min: -0.1, max: 1.2, inverse: false, major: M1_Y_TICKS, minor: minorTicks(-0.1, 1.2, 0.1, M1_Y_TICKS), margin: 9, name: "{a|m}{s|1o}", nameGap: 22 };

const TICK_MAJOR = 9;
const TICK_MINOR = 5;
const TICK_WIDTH = 1.5;

// tick segments (in data units) for one panel: inward marks on all four sides
function tickSegments(xs: any, ys: any, box: number[]) {
  const w = box[2], h = box[3];
  const yBot = ys.inverse ? ys.max : ys.min;
  const yTop = ys.inverse ? ys.min : ys.max;
  const up = ys.inverse ? -1 : 1;
  const segs: any[] = [];
  const addX = (vals: number[], len: number) => {
    const d = (len * (ys.max - ys.min)) / h;
    vals.forEach((v) => {
      segs.push({ coords: [[v, yBot], [v, yBot + up * d]] });
      segs.push({ coords: [[v, yTop], [v, yTop - up * d]] });
    });
  };
  const addY = (vals: number[], len: number) => {
    const d = (len * (xs.max - xs.min)) / w;
    vals.forEach((v) => {
      segs.push({ coords: [[xs.min, v], [xs.min + d, v]] });
      segs.push({ coords: [[xs.max, v], [xs.max - d, v]] });
    });
  };
  addX(xs.major, TICK_MAJOR); addX(xs.minor, TICK_MINOR); addY(ys.major, TICK_MAJOR); addY(ys.minor, TICK_MINOR);
  return segs;
}

function buildOption() {
  const grids: any[] = [];
  const xAxes: any[] = [];
  const yAxes: any[] = [];
  const series: any[] = [];

  const subRich = (size: number) => ({
    a: { fontSize: size, fontFamily: FONT, color: "#000" },
    s: { fontSize: 11, fontFamily: FONT, color: "#000", verticalAlign: "bottom", lineHeight: 8, padding: [6, 0, 0, 0] },
  });

  const addAxes = (gi: number, xs: any, ys: any, box: number[]) => {
    const common = { type: "value", gridIndex: gi, splitLine: { show: false }, axisLine: { show: false, onZero: false }, axisTick: { show: false }, nameMoveOverlap: false };
    const xi = xAxes.length;
    xAxes.push({ ...common, position: "bottom", min: xs.min, max: xs.max,
      axisLabel: { show: true, customValues: xs.major, formatter: fmt, margin: xs.margin, color: "#000", fontSize: 16, fontFamily: FONT },
      name: xs.name, nameLocation: "middle", nameGap: xs.nameGap,
      nameTextStyle: { color: "#000", fontSize: 16, fontFamily: FONT, rich: subRich(16) } });
    const yi = yAxes.length;
    yAxes.push({ ...common, position: "left", min: ys.min, max: ys.max, inverse: ys.inverse,
      axisLabel: { show: true, customValues: ys.major, formatter: fmt, margin: ys.margin, rotate: 90, color: "#000", fontSize: 16, fontFamily: FONT },
      name: ys.name, nameLocation: "middle", nameGap: ys.nameGap,
      nameTextStyle: { color: "#000", fontSize: 17, fontFamily: FONT, rich: subRich(17) } });
    series.push({ type: "lines", coordinateSystem: "cartesian2d", xAxisIndex: xi, yAxisIndex: yi, silent: true, z: 10,
      polyline: false, data: tickSegments(xs, ys, box), lineStyle: { color: "#000", width: TICK_WIDTH, opacity: 1, curveness: 0 }, effect: { show: false } });
    return { xi, yi };
  };

  const errSeries = (ax: any, data: number[][], color: string) => ({
    type: "custom", xAxisIndex: ax.xi, yAxisIndex: ax.yi, data, silent: true, z: 3,
    encode: { x: 0, y: 1 },
    renderItem: (_p: any, api: any) => {
      const c = api.coord([api.value(0), api.value(1)]);
      const s = api.size([api.value(2), api.value(3)]);
      return {
        type: "group",
        children: [
          { type: "line", shape: { x1: c[0] - s[0], y1: c[1], x2: c[0] + s[0], y2: c[1] }, style: { stroke: color, lineWidth: 1 } },
          { type: "line", shape: { x1: c[0], y1: c[1] - s[1], x2: c[0], y2: c[1] + s[1] }, style: { stroke: color, lineWidth: 1 } },
        ],
      };
    },
  });

  const gridBox = (r: number[]) => ({ left: r[0], top: r[1], width: r[2], height: r[3], show: true, borderColor: "#000", borderWidth: 1.2, backgroundColor: "transparent", containLabel: false, outerBoundsMode: "none" });

  CLUSTERS.forEach((cl, i) => {
    const L = LAYOUT[i];
    const gC = grids.length;
    grids.push(gridBox(L.cmd));
    const gM = grids.length;
    grids.push(gridBox(L.m1));
    const aC = addAxes(gC, cmdX, cmdY, L.cmd);
    const aM = addAxes(gM, m1X, m1Y, L.m1);

    // CMD panel
    series.push({ type: "scatter", xAxisIndex: aC.xi, yAxisIndex: aC.yi, data: cl.field, symbol: "rect", symbolSize: 2.2, itemStyle: { color: "#000" }, silent: true, z: 2 });
    series.push({ type: "scatter", xAxisIndex: aC.xi, yAxisIndex: aC.yi, data: cl.cb, symbol: "circle", symbolSize: 6.5, itemStyle: { color: "#000" }, silent: true, z: 4 });
    series.push({ type: "scatter", xAxisIndex: aC.xi, yAxisIndex: aC.yi, data: cl.cr, symbol: "circle", symbolSize: 7, itemStyle: { color: RED }, silent: true, z: 5 });

    // m1 panel: iso-metallicity lines
    FEH_Y_START.forEach((y0, k) => {
      series.push({ type: "line", xAxisIndex: aM.xi, yAxisIndex: aM.yi, data: [[FEH_X[0], y0], [FEH_X[1], FEH_Y_END[k]]], symbol: "none", lineStyle: { color: "#000", width: 1 }, silent: true, z: 2 });
    });
    series.push({ type: "scatter", xAxisIndex: aM.xi, yAxisIndex: aM.yi, silent: true, z: 6, symbolSize: 0.1, itemStyle: { color: "transparent" },
      data: FEH_LABELS.map((t, k) => ({ value: [1.205, FEH_LABEL_Y[k]], name: t })),
      label: { show: true, position: "left", distance: 0, formatter: (p: any) => p.name, color: "#000", fontSize: 10.5, fontWeight: "bold", fontFamily: LABEL_FONT } });
    series.push({ type: "scatter", xAxisIndex: aM.xi, yAxisIndex: aM.yi, silent: true, z: 6, symbolSize: 0.1, itemStyle: { color: "transparent" },
      data: [{ value: [0.4, 1.075], name: NAMES[i] }],
      label: { show: true, position: "right", distance: 0, formatter: (p: any) => p.name.replace(" ", "  "), color: "#000", fontSize: 16, fontFamily: FONT } });
    if (cl.eb.length) series.push(errSeries(aM, cl.eb, "#000"));
    if (cl.er.length) series.push(errSeries(aM, cl.er, RED));
    series.push({ type: "scatter", xAxisIndex: aM.xi, yAxisIndex: aM.yi, data: cl.mb, symbol: "circle", symbolSize: 5.5, itemStyle: { color: "#000" }, silent: true, z: 4 });
    series.push({ type: "scatter", xAxisIndex: aM.xi, yAxisIndex: aM.yi, data: cl.mr, symbol: "circle", symbolSize: 6.5, itemStyle: { color: RED }, silent: true, z: 5 });
  });

  return { animation: false, backgroundColor: "#fff", grid: grids, xAxis: xAxes, yAxis: yAxes, series };
}

export default function App() {
  const ref = useRef<HTMLDivElement>(null);
  useEffect(() => {
    document.body.style.margin = "0";
    if (!ref.current) return;
    const chart = echarts.init(ref.current, undefined, { renderer: "svg" });
    chart.setOption(buildOption() as any);
    return () => chart.dispose();
  }, []);
  return <div ref={ref} style={{ width: 1245, height: 1220 }} />;
}
